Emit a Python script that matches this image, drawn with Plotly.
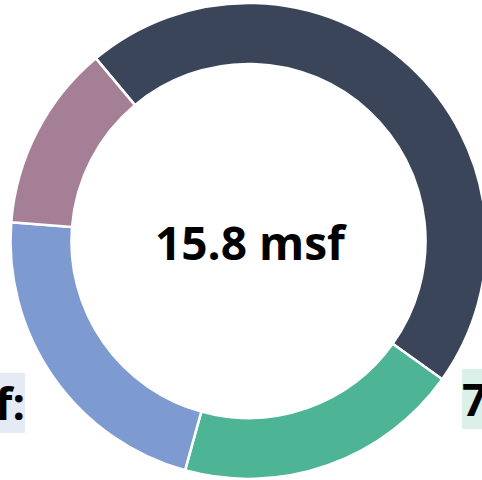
import plotly.graph_objects as go

# Data
categories = ["Dark", "Green", "Blue", "Mauve"]
values_msf = [7.26, 3.07, 3.47, 2.0]
slice_colors = ["#3b4559", "#4db595", "#7e9bd1", "#a57f96"]
total_label = "15.8 msf"
left_label = "3.5 msf:"
right_label = "7.3 msf"

W, H = 497, 480

fig = go.Figure()
fig.add_trace(go.Pie(
    labels=categories,
    values=values_msf,
    hole=0.744,
    sort=False,
    direction="clockwise",
    rotation=320.1,
    textinfo="none",
    hoverinfo="label+value",
    marker=dict(colors=slice_colors, line=dict(color="#ffffff", width=2.5)),
    domain=dict(x=[0, 1], y=[0.0022, 0.9938]),
    showlegend=False,
))

fig.add_annotation(
    x=251 / W, y=1 - 242 / H, xref="paper", yref="paper",
    text=f"<b>{total_label}</b>", showarrow=False,
    font=dict(family="Open Sans", size=46, color="#000000"),
    xanchor="center", yanchor="middle",
)
fig.add_annotation(
    x=25 / W, y=1 - 402.5 / H, xref="paper", yref="paper",
    text=f"<b>{left_label}</b>", showarrow=False,
    font=dict(family="Open Sans", size=44, color="#000000"),
    xanchor="right", yanchor="middle",
    bgcolor="#e5eaf5", borderpad=0, borderwidth=0,
)
fig.add_annotation(
    x=462 / W, y=1 - 399 / H, xref="paper", yref="paper",
    text=f"<b>{right_label}</b>", showarrow=False,
    font=dict(family="Open Sans", size=44, color="#000000"),
    xanchor="left", yanchor="middle",
    bgcolor="#daf0e9", borderpad=0, borderwidth=0,
)

fig.update_layout(
    width=W, height=H,
    margin=dict(l=0, r=0, t=0, b=0),
    paper_bgcolor="#ffffff",
    plot_bgcolor="#ffffff",
)

fig.write_html(
    "out.html",
    post_script="document.documentElement.style.overflow='hidden';document.body.style.overflow='hidden';document.body.style.margin='0';",
)
